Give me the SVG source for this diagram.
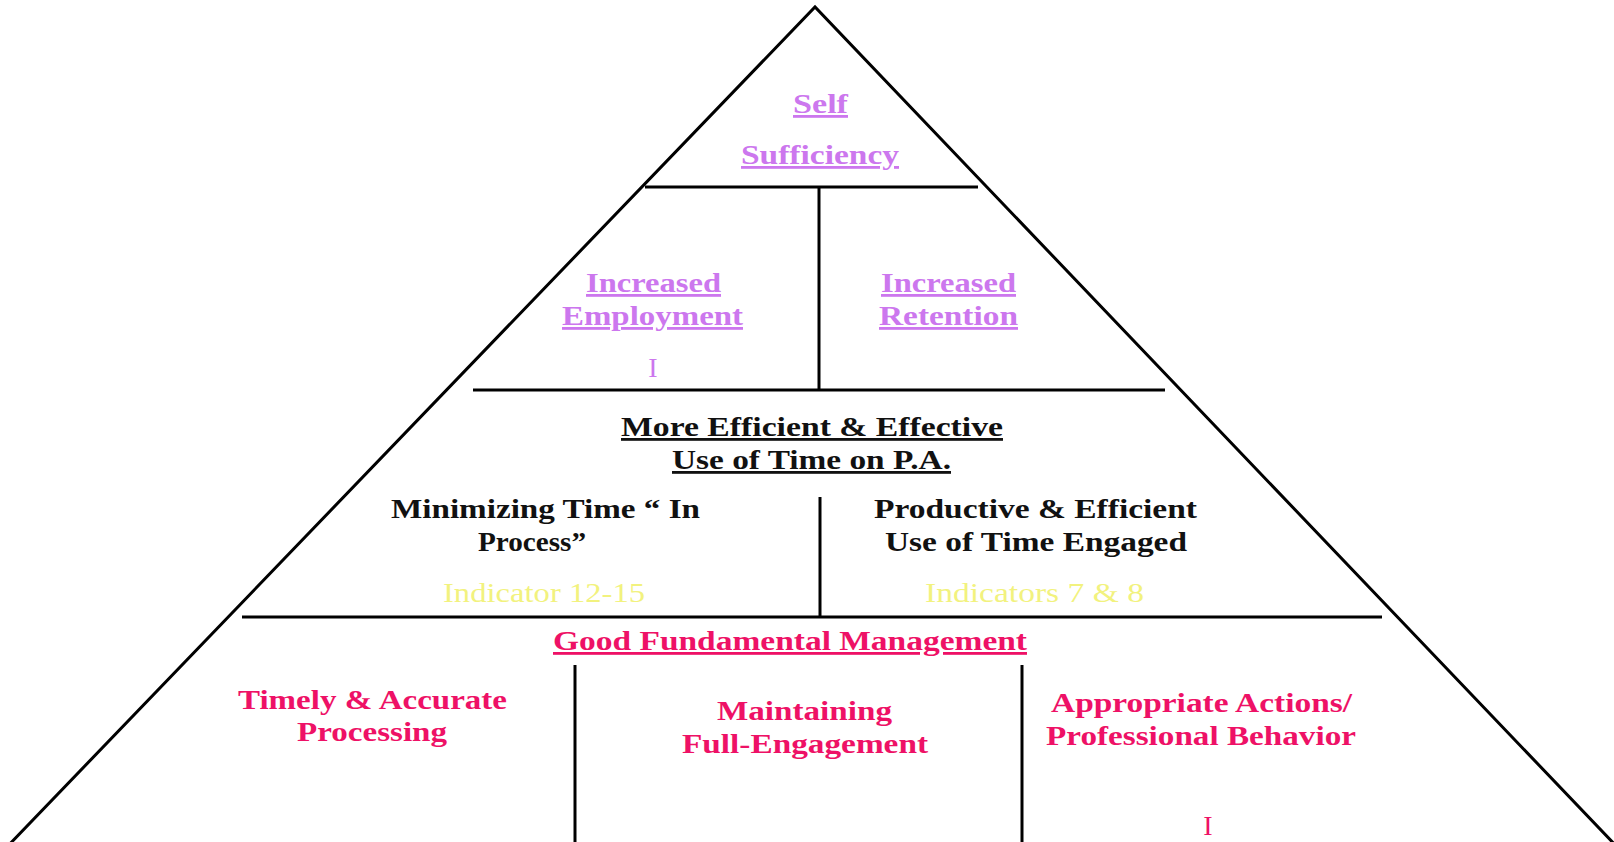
<svg xmlns="http://www.w3.org/2000/svg" width="1614" height="842" viewBox="0 0 1614 842">
  <style>
    .edge { stroke: #000; stroke-width: 3; fill: none; stroke-linecap: butt; }
    .t { font-family: "Liberation Serif", "Times New Roman", serif; font-size: 28px; }
    .b { font-weight: bold; }
    .u { text-decoration: underline; }
    .purple { fill: #CC77EE; }
    .dark { fill: #111111; }
    .pink { fill: #EE1166; }
    .yellow { fill: #F2F27E; }
    .mid { text-anchor: middle; }
  </style>
  <rect x="0" y="0" width="1614" height="842" fill="#FFFFFF"/>

  <!-- pyramid outline and tier dividers -->
  <g id="connectors">
    <polyline class="edge" points="4,850 815,7 1620,850"/>
    <line class="edge" x1="645" y1="187" x2="978" y2="187"/>
    <line class="edge" x1="819" y1="187" x2="819" y2="390"/>
    <line class="edge" x1="473" y1="390" x2="1165" y2="390"/>
    <line class="edge" x1="820" y1="497" x2="820" y2="617"/>
    <line class="edge" x1="242" y1="617" x2="1382" y2="617"/>
    <line class="edge" x1="575" y1="665" x2="575" y2="845"/>
    <line class="edge" x1="1022" y1="665" x2="1022" y2="845"/>
  </g>

  <!-- top tier -->
  <g id="self-sufficiency">
    <text class="t b u purple" x="793" y="113" textLength="55" lengthAdjust="spacingAndGlyphs">Self</text>
    <text class="t b u purple" x="741" y="164" textLength="158" lengthAdjust="spacingAndGlyphs">Sufficiency</text>
  </g>

  <!-- second tier -->
  <g id="increased-employment">
    <text class="t b u purple" x="586" y="292" textLength="135" lengthAdjust="spacingAndGlyphs">Increased</text>
    <text class="t b u purple" x="562" y="325" textLength="181" lengthAdjust="spacingAndGlyphs">Employment</text>
    <text class="t purple mid" x="653" y="377">I</text>
  </g>
  <g id="increased-retention">
    <text class="t b u purple" x="881" y="292" textLength="135" lengthAdjust="spacingAndGlyphs">Increased</text>
    <text class="t b u purple" x="879" y="325" textLength="139" lengthAdjust="spacingAndGlyphs">Retention</text>
  </g>

  <!-- third tier -->
  <g id="efficient-use-of-time">
    <text class="t b u dark" x="621" y="436" textLength="382" lengthAdjust="spacingAndGlyphs">More Efficient &amp; Effective</text>
    <text class="t b u dark" x="672" y="469" textLength="279" lengthAdjust="spacingAndGlyphs">Use of Time on P.A.</text>
  </g>
  <g id="minimizing-time">
    <text class="t b dark" x="391" y="518" textLength="309" lengthAdjust="spacingAndGlyphs">Minimizing Time “ In</text>
    <text class="t b dark" x="478" y="551" textLength="108" lengthAdjust="spacingAndGlyphs">Process”</text>
    <text class="t yellow" x="443" y="602" textLength="202" lengthAdjust="spacingAndGlyphs">Indicator  12-15</text>
  </g>
  <g id="productive-use">
    <text class="t b dark" x="874" y="518" textLength="323" lengthAdjust="spacingAndGlyphs">Productive &amp; Efficient</text>
    <text class="t b dark" x="885" y="551" textLength="302" lengthAdjust="spacingAndGlyphs">Use of Time Engaged</text>
    <text class="t yellow" x="925" y="602" textLength="219" lengthAdjust="spacingAndGlyphs">Indicators  7 &amp; 8</text>
  </g>

  <!-- base tier -->
  <g id="good-fundamental-management">
    <text class="t b u pink" x="553" y="650" textLength="474" lengthAdjust="spacingAndGlyphs">Good Fundamental Management</text>
  </g>
  <g id="timely-processing">
    <text class="t b pink" x="238" y="709" textLength="269" lengthAdjust="spacingAndGlyphs">Timely &amp; Accurate</text>
    <text class="t b pink" x="297" y="741" textLength="150" lengthAdjust="spacingAndGlyphs">Processing</text>
  </g>
  <g id="full-engagement">
    <text class="t b pink" x="717" y="720" textLength="175" lengthAdjust="spacingAndGlyphs">Maintaining</text>
    <text class="t b pink" x="682" y="753" textLength="246" lengthAdjust="spacingAndGlyphs">Full-Engagement</text>
  </g>
  <g id="professional-behavior">
    <text class="t b pink" x="1051" y="712" textLength="301" lengthAdjust="spacingAndGlyphs">Appropriate Actions/</text>
    <text class="t b pink" x="1046" y="745" textLength="310" lengthAdjust="spacingAndGlyphs">Professional Behavior</text>
    <text class="t pink mid" x="1208" y="835">I</text>
  </g>
</svg>
